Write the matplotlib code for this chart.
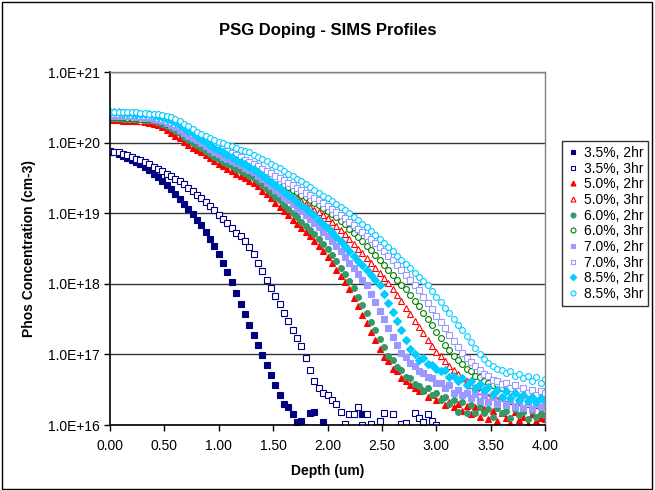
import numpy as np
import matplotlib
matplotlib.use('Agg')
import matplotlib.pyplot as plt
from matplotlib.ticker import FuncFormatter, NullLocator
from matplotlib.patches import Rectangle

plt.rcParams['font.family'] = ['Liberation Sans', 'DejaVu Sans']

# depth grid (um), one SIMS reading every 0.04 um
depth = np.round(np.arange(101) * 0.04, 2)
nan = np.nan

# log10 of phosphorus concentration (cm-3)
p35_2hr = [19.87, 19.86, 19.84, 19.81, 19.78, 19.75, 19.72, 19.69, 19.65, 19.61,
           19.56, 19.51, 19.46, 19.40, 19.34, 19.27, 19.20, 19.13, 19.06, 18.99,
           18.91, 18.83, 18.74, 18.64, 18.53, 18.42, 18.30, 18.17, 18.02, 17.87,
           17.72, 17.57, 17.42, 17.27, 17.13, 16.99, 16.85, 16.71, 16.57, 16.42,
           16.30, 16.26, 16.16, 16.04, 16.05, nan, 16.17, 16.18, nan, 16.04,
           nan, nan, nan, nan, nan, nan, nan, nan, 16.15, nan,
           nan, nan, nan, nan, nan, nan, nan, nan, nan, nan,
           nan, nan, nan, nan, nan, nan, nan, nan, nan, nan,
           nan, nan, nan, nan, nan, nan, nan, nan, nan, nan,
           nan, nan, nan, nan, nan, nan, nan, nan, nan, nan,
           nan]
p35_3hr = [19.88, 19.87, 19.86, 19.84, 19.82, 19.80, 19.77, 19.75, 19.72, 19.69,
           19.66, 19.63, 19.60, 19.56, 19.53, 19.49, 19.45, 19.41, 19.36, 19.31,
           19.26, 19.21, 19.16, 19.10, 19.04, 18.98, 18.92, 18.86, 18.79, 18.72,
           18.67, 18.60, 18.52, 18.42, 18.30, 18.18, 18.06, 17.94, 17.83, 17.71,
           17.59, 17.47, 17.35, 17.23, 17.12, 16.95, 16.78, 16.62, 16.52, 16.45,
           16.42, 16.36, 16.30, 16.18, 16.02, 16.15, 16.16, 16.25, 16.00, 16.15,
           16.02, nan, 16.05, 16.17, nan, 16.15, nan, 16.02, 16.03, nan,
           16.17, 16.10, 16.04, 16.15, 16.06, 16.00, nan, nan, nan, nan,
           nan, nan, nan, nan, nan, nan, nan, nan, nan, nan,
           nan, nan, nan, nan, nan, nan, nan, nan, nan, nan,
           nan]
p50_2hr = [20.32, 20.32, 20.32, 20.31, 20.31, 20.31, 20.30, 20.30, 20.29, 20.28,
           20.27, 20.25, 20.22, 20.18, 20.14, 20.10, 20.06, 20.01, 19.97, 19.93,
           19.90, 19.86, 19.82, 19.78, 19.74, 19.70, 19.67, 19.63, 19.60, 19.56,
           19.53, 19.50, 19.46, 19.43, 19.38, 19.32, 19.27, 19.21, 19.15, 19.09,
           19.03, 18.97, 18.91, 18.85, 18.79, 18.73, 18.67, 18.60, 18.54, 18.47,
           18.38, 18.29, 18.20, 18.11, 18.02, 17.92, 17.80, 17.68, 17.56, 17.44,
           17.32, 17.20, 17.08, 16.97, 16.90, 16.80, 16.76, 16.66, 16.63, 16.57,
           16.52, 16.48, 16.50, 16.40, 16.42, 16.35, 16.38, 16.28, 16.33, 16.25,
           16.30, 16.20, 16.27, 16.15, 16.25, 16.12, 16.22, 16.08, 16.20, 16.05,
           16.17, 16.10, 16.03, 16.18, 16.07, 16.12, 16.02, 16.15, 16.05, 16.10,
           16.08]
p50_3hr = [20.33, 20.33, 20.33, 20.33, 20.32, 20.32, 20.32, 20.31, 20.31, 20.30,
           20.30, 20.28, 20.26, 20.24, 20.22, 20.19, 20.15, 20.11, 20.07, 20.04,
           20.01, 19.97, 19.94, 19.90, 19.87, 19.84, 19.81, 19.78, 19.75, 19.72,
           19.69, 19.66, 19.63, 19.60, 19.56, 19.52, 19.48, 19.44, 19.40, 19.36,
           19.32, 19.28, 19.25, 19.21, 19.17, 19.13, 19.09, 19.05, 19.02, 18.98,
           18.93, 18.88, 18.82, 18.76, 18.70, 18.64, 18.57, 18.50, 18.44, 18.37,
           18.30, 18.23, 18.16, 18.08, 18.01, 17.93, 17.84, 17.75, 17.66, 17.57,
           17.48, 17.39, 17.30, 17.21, 17.12, 17.04, 16.98, 16.90, 16.83, 16.78,
           16.72, 16.66, 16.62, 16.56, 16.54, 16.48, 16.46, 16.40, 16.42, 16.35,
           16.38, 16.30, 16.34, 16.27, 16.32, 16.24, 16.30, 16.22, 16.28, 16.20,
           16.25]
p60_2hr = [20.35, 20.35, 20.35, 20.34, 20.34, 20.34, 20.33, 20.33, 20.32, 20.32,
           20.31, 20.29, 20.27, 20.24, 20.21, 20.17, 20.13, 20.08, 20.04, 20.00,
           19.96, 19.92, 19.88, 19.84, 19.80, 19.77, 19.73, 19.70, 19.67, 19.63,
           19.60, 19.57, 19.53, 19.50, 19.45, 19.40, 19.34, 19.29, 19.23, 19.18,
           19.12, 19.06, 19.00, 18.94, 18.88, 18.82, 18.76, 18.70, 18.64, 18.57,
           18.49, 18.41, 18.32, 18.23, 18.14, 18.04, 17.94, 17.82, 17.70, 17.58,
           17.46, 17.34, 17.22, 17.10, 16.98, 16.92, 16.82, 16.78, 16.68, 16.66,
           16.58, 16.55, 16.48, 16.52, 16.42, 16.45, 16.36, 16.40, 16.30, 16.36,
           16.18, 16.32, 16.17, 16.28, 16.17, 16.25, 16.17, 16.22, 16.12, 16.24,
           16.17, 16.20, 16.10, 16.22, 16.14, 16.18, 16.08, 16.20, 16.12, 16.16,
           16.14]
p60_3hr = [20.36, 20.36, 20.36, 20.36, 20.35, 20.35, 20.35, 20.34, 20.34, 20.33,
           20.33, 20.31, 20.29, 20.27, 20.25, 20.22, 20.18, 20.14, 20.10, 20.07,
           20.04, 20.00, 19.97, 19.93, 19.90, 19.87, 19.84, 19.81, 19.78, 19.75,
           19.72, 19.69, 19.66, 19.63, 19.60, 19.56, 19.53, 19.50, 19.47, 19.43,
           19.40, 19.37, 19.33, 19.30, 19.26, 19.23, 19.19, 19.15, 19.11, 19.07,
           19.03, 18.99, 18.94, 18.89, 18.84, 18.78, 18.72, 18.66, 18.60, 18.54,
           18.48, 18.41, 18.34, 18.27, 18.20, 18.13, 18.06, 17.99, 17.92, 17.84,
           17.76, 17.68, 17.59, 17.50, 17.41, 17.32, 17.23, 17.14, 17.06, 16.98,
           16.92, 16.86, 16.80, 16.76, 16.70, 16.68, 16.62, 16.60, 16.56, 16.58,
           16.52, 16.55, 16.48, 16.52, 16.45, 16.50, 16.43, 16.48, 16.42, 16.47,
           16.44]
p70_2hr = [20.38, 20.38, 20.38, 20.37, 20.37, 20.37, 20.36, 20.36, 20.35, 20.35,
           20.34, 20.32, 20.30, 20.28, 20.25, 20.22, 20.18, 20.14, 20.10, 20.07,
           20.03, 19.99, 19.95, 19.91, 19.87, 19.84, 19.80, 19.77, 19.74, 19.71,
           19.68, 19.64, 19.61, 19.58, 19.53, 19.48, 19.43, 19.38, 19.33, 19.28,
           19.23, 19.18, 19.13, 19.08, 19.03, 18.98, 18.92, 18.86, 18.80, 18.74,
           18.67, 18.60, 18.53, 18.46, 18.38, 18.30, 18.22, 18.14, 18.06, 17.98,
           17.86, 17.74, 17.62, 17.50, 17.38, 17.25, 17.13, 17.02, 16.96, 16.88,
           16.84, 16.76, 16.74, 16.68, 16.66, 16.60, 16.60, 16.52, 16.56, 16.46,
           16.50, 16.42, 16.46, 16.38, 16.44, 16.34, 16.42, 16.32, 16.40, 16.30,
           16.38, 16.28, 16.36, 16.26, 16.34, 16.24, 16.32, 16.22, 16.30, 16.25,
           16.28]
p70_3hr = [20.40, 20.40, 20.40, 20.40, 20.39, 20.39, 20.39, 20.38, 20.38, 20.37,
           20.37, 20.35, 20.33, 20.31, 20.29, 20.26, 20.23, 20.19, 20.16, 20.12,
           20.09, 20.06, 20.03, 20.00, 19.97, 19.94, 19.91, 19.88, 19.85, 19.82,
           19.79, 19.76, 19.73, 19.70, 19.67, 19.63, 19.60, 19.57, 19.53, 19.50,
           19.47, 19.43, 19.40, 19.36, 19.33, 19.29, 19.26, 19.22, 19.18, 19.14,
           19.10, 19.06, 19.02, 18.98, 18.93, 18.88, 18.83, 18.78, 18.73, 18.68,
           18.63, 18.58, 18.52, 18.46, 18.40, 18.34, 18.27, 18.20, 18.13, 18.06,
           17.99, 17.91, 17.82, 17.73, 17.64, 17.55, 17.46, 17.37, 17.28, 17.19,
           17.10, 17.02, 16.95, 16.89, 16.83, 16.78, 16.72, 16.70, 16.64, 16.63,
           16.58, 16.60, 16.52, 16.56, 16.48, 16.52, 16.45, 16.50, 16.43, 16.48,
           16.45]
p85_2hr = [20.43, 20.43, 20.43, 20.42, 20.42, 20.42, 20.41, 20.41, 20.40, 20.40,
           20.39, 20.38, 20.36, 20.34, 20.32, 20.29, 20.25, 20.21, 20.17, 20.13,
           20.09, 20.05, 20.01, 19.97, 19.93, 19.89, 19.86, 19.82, 19.79, 19.76,
           19.73, 19.69, 19.66, 19.63, 19.58, 19.54, 19.49, 19.44, 19.40, 19.35,
           19.30, 19.26, 19.21, 19.16, 19.12, 19.07, 19.02, 18.97, 18.91, 18.85,
           18.79, 18.73, 18.66, 18.60, 18.53, 18.47, 18.40, 18.33, 18.26, 18.19,
           18.12, 18.05, 17.98, 17.86, 17.73, 17.60, 17.47, 17.34, 17.21, 17.08,
           17.00, 16.92, 16.95, 16.86, 16.85, 16.80, 16.76, 16.78, 16.68, 16.70,
           16.62, 16.66, 16.56, 16.62, 16.52, 16.58, 16.50, 16.54, 16.44, 16.50,
           16.40, 16.48, 16.38, 16.45, 16.36, 16.42, 16.34, 16.40, 16.33, 16.38,
           16.36]
p85_3hr = [20.44, 20.44, 20.44, 20.44, 20.43, 20.43, 20.43, 20.42, 20.42, 20.41,
           20.41, 20.40, 20.39, 20.38, 20.36, 20.34, 20.31, 20.27, 20.23, 20.19,
           20.15, 20.12, 20.09, 20.06, 20.04, 20.01, 19.99, 19.97, 19.95, 19.93,
           19.90, 19.88, 19.86, 19.83, 19.80, 19.77, 19.74, 19.70, 19.67, 19.64,
           19.60, 19.56, 19.53, 19.49, 19.45, 19.41, 19.37, 19.33, 19.29, 19.25,
           19.21, 19.17, 19.13, 19.09, 19.04, 19.00, 18.95, 18.90, 18.85, 18.80,
           18.75, 18.69, 18.64, 18.58, 18.52, 18.46, 18.40, 18.34, 18.28, 18.22,
           18.16, 18.10, 18.04, 17.98, 17.90, 17.82, 17.74, 17.66, 17.58, 17.50,
           17.42, 17.34, 17.26, 17.17, 17.09, 17.01, 16.94, 16.88, 16.84, 16.80,
           16.78, 16.74, 16.76, 16.70, 16.72, 16.66, 16.70, 16.62, 16.68, 16.60,
           16.65]

labels = ['3.5%, 2hr', '3.5%, 3hr', '5.0%, 2hr', '5.0%, 3hr', '6.0%, 2hr',
          '6.0%, 3hr', '7.0%, 2hr', '7.0%, 3hr', '8.5%, 2hr', '8.5%, 3hr']
series = [p35_2hr, p35_3hr, p50_2hr, p50_3hr, p60_2hr,
          p60_3hr, p70_2hr, p70_3hr, p85_2hr, p85_3hr]

# marker, colour, filled
styles = [('s', '#000080', True), ('s', '#000080', False),
          ('^', '#FF0000', True), ('^', '#FF0000', False),
          ('o', '#339966', True), ('o', '#008000', False),
          ('s', '#9999FF', True), ('s', '#9999FF', False),
          ('D', '#00CCFF', True), ('o', '#00CCFF', False)]

fig = plt.figure(figsize=(6.55, 4.9), dpi=100)
ax = fig.add_axes([110 / 655, 1 - 425 / 490, 435 / 655, 353 / 490])

handles = []
for vals, lab, (mk, col, filled) in zip(series, labels, styles):
    conc = 10 ** np.array(vals, dtype=float)
    ms = 4.2 if mk != 'D' else 3.8
    h, = ax.plot(depth, conc, linestyle='none', marker=mk, markersize=ms,
                 markerfacecolor=col if filled else 'white',
                 markeredgecolor=col, markeredgewidth=0.8, label=lab)
    handles.append(h)

ax.set_yscale('log')
ax.set_xlim(0, 4)
ax.set_ylim(1e16, 1e21)
ax.set_xticks(np.arange(0, 4.01, 0.5))
ax.xaxis.set_major_formatter(FuncFormatter(lambda v, p: f'{v:.2f}'))
ax.set_yticks([1e16, 1e17, 1e18, 1e19, 1e20, 1e21])
ax.yaxis.set_major_formatter(FuncFormatter(lambda v, p: f'{v:.1E}'))
ax.yaxis.set_minor_locator(NullLocator())
ax.tick_params(axis='both', labelsize=10, direction='out', length=4, width=1, color='black')
ax.tick_params(axis='x', pad=6)
ax.grid(axis='y', color='#333333', linewidth=1)
ax.set_axisbelow(True)

for side in ['top', 'right']:
    ax.spines[side].set_color('#808080')
    ax.spines[side].set_linewidth(1)
for side in ['left', 'bottom']:
    ax.spines[side].set_color('black')
    ax.spines[side].set_linewidth(1.2)

ax.set_xlabel('Depth (um)', fontsize=10, fontweight='bold', labelpad=8)
ax.set_ylabel('Phos Concentration (cm-3)', fontsize=10, fontweight='bold', labelpad=8)
fig.text(0.5, 1 - 31 / 490, 'PSG Doping - SIMS Profiles', ha='center', va='center',
         fontsize=12, fontweight='bold')

leg = fig.legend(handles=handles, labels=labels, loc='upper left',
                 bbox_to_anchor=(562 / 655, 1 - 141 / 490), fontsize=10,
                 frameon=True, fancybox=False, edgecolor='black',
                 labelspacing=0.12, handletextpad=0.3, borderpad=0.35,
                 handlelength=0.9, borderaxespad=0, markerscale=0.85)
leg.get_frame().set_linewidth(1)

fig.patches.append(Rectangle((0.003, 0.003), 0.993, 0.993, transform=fig.transFigure,
                             fill=False, edgecolor='black', linewidth=1))

fig.savefig('out.png', dpi=100)
